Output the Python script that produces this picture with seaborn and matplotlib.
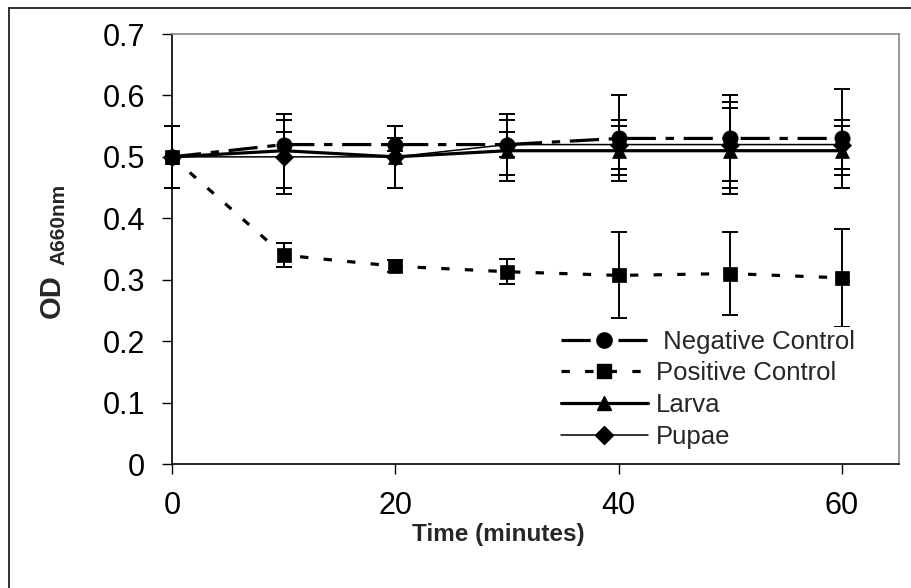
import matplotlib
matplotlib.use("Agg")
import matplotlib.pyplot as plt
from matplotlib.lines import Line2D
import seaborn as sns
import pandas as pd

time_min = [0, 10, 20, 30, 40, 50, 60]

negative = [0.50, 0.52, 0.52, 0.52, 0.53, 0.53, 0.53]
negative_err = [0.05, 0.02, 0.01, 0.02, 0.07, 0.07, 0.08]

positive = [0.50, 0.34, 0.322, 0.313, 0.307, 0.310, 0.303]
positive_err = [0.05, 0.02, 0.01, 0.02, 0.07, 0.067, 0.08]

larva = [0.50, 0.51, 0.50, 0.51, 0.51, 0.51, 0.51]
larva_err = [0.05, 0.06, 0.05, 0.05, 0.04, 0.07, 0.04]

pupae = [0.50, 0.50, 0.50, 0.52, 0.52, 0.52, 0.52]
pupae_err = [0.05, 0.06, 0.05, 0.05, 0.04, 0.07, 0.04]

labels = [" Negative Control", "Positive Control", "Larva", "Pupae"]

sns.set_theme(style="white")
plt.rcParams["font.family"] = ["Liberation Sans", "DejaVu Sans"]
plt.rcParams["lines.scale_dashes"] = False

fig = plt.figure(figsize=(9.12, 5.88), dpi=100)
ax = fig.add_axes([172 / 912, 1 - 464 / 588, 727 / 912, 430 / 588])

series = [
    (negative, negative_err, dict(marker="o", ms=11, lw=2.3,
                                  linestyle=(0, (21, 7, 6, 7)))),
    (positive, positive_err, dict(marker="s", ms=10, lw=2.3,
                                  linestyle=(0, (6, 11)))),
    (larva, larva_err, dict(marker="^", ms=10, lw=2.3, linestyle="-")),
    (pupae, pupae_err, dict(marker="D", ms=9, lw=1.1, linestyle="-")),
]

handles = []
for (vals, errs, style), lab in zip(series, labels):
    df = pd.DataFrame({"time": time_min, "od": vals})
    eb = ax.errorbar(df["time"], df["od"], yerr=errs, fmt="none",
                     ecolor="black", elinewidth=1.4, capsize=6,
                     capthick=1.4, zorder=3)
    for art in eb.lines[1] + eb.lines[2]:
        art.set_clip_on(False)
    sns.lineplot(data=df, x="time", y="od", ax=ax, color="black",
                 markeredgecolor="black", markerfacecolor="black",
                 markeredgewidth=0.5, zorder=4, legend=False,
                 clip_on=False, **style)
    handles.append(Line2D([], [], color="black", markeredgecolor="black",
                          markerfacecolor="black", **style))

ax.set_xlim(0, 65.1)
ax.set_ylim(0, 0.7)
ax.set_xticks([0, 20, 40, 60])
ax.set_yticks([0, 0.1, 0.2, 0.3, 0.4, 0.5, 0.6, 0.7])
ax.set_yticklabels(["0", "0.1", "0.2", "0.3", "0.4", "0.5", "0.6", "0.7"])
ax.tick_params(axis="both", direction="out", colors="black", labelsize=22,
               width=1.0, length=7.5, left=True, bottom=True)
ax.tick_params(axis="y", pad=12)
ax.tick_params(axis="x", pad=12)

for side in ["left", "bottom"]:
    ax.spines[side].set_color("black")
    ax.spines[side].set_linewidth(1.2)
for side in ["top", "right"]:
    ax.spines[side].set_color("#888888")
    ax.spines[side].set_linewidth(1.2)

ax.set_xlabel("Time (minutes)", fontsize=17.5, fontweight="bold")
ax.xaxis.set_label_coords((498 - 172) / 727, -0.138)
ax.set_ylabel("")

fig.text(66 / 912, 1 - 296 / 588, "OD", rotation=90, fontsize=21,
         fontweight="bold", ha="right", va="center")
fig.text(68 / 912, 1 - 224 / 588, "A660nm", rotation=90, fontsize=15,
         fontweight="bold", ha="right", va="center")

leg = ax.legend(handles, labels, loc="upper left",
                bbox_to_anchor=(558 / 912, 1 - 327 / 588),
                bbox_transform=fig.transFigure, fontsize=18.5,
                frameon=True, facecolor="white", edgecolor="none",
                framealpha=1, borderpad=0.1, borderaxespad=0,
                labelspacing=0.3, handlelength=3.4, handletextpad=0.3)
leg.set_zorder(10)

# outer chart frame
fig.add_artist(Line2D([9 / 912, 1], [1 - 8 / 588, 1 - 8 / 588],
                      color="#222222", lw=1.3))
fig.add_artist(Line2D([9 / 912, 9 / 912], [0, 1 - 8 / 588],
                      color="#222222", lw=1.3))

fig.savefig("out.png", dpi=100)
